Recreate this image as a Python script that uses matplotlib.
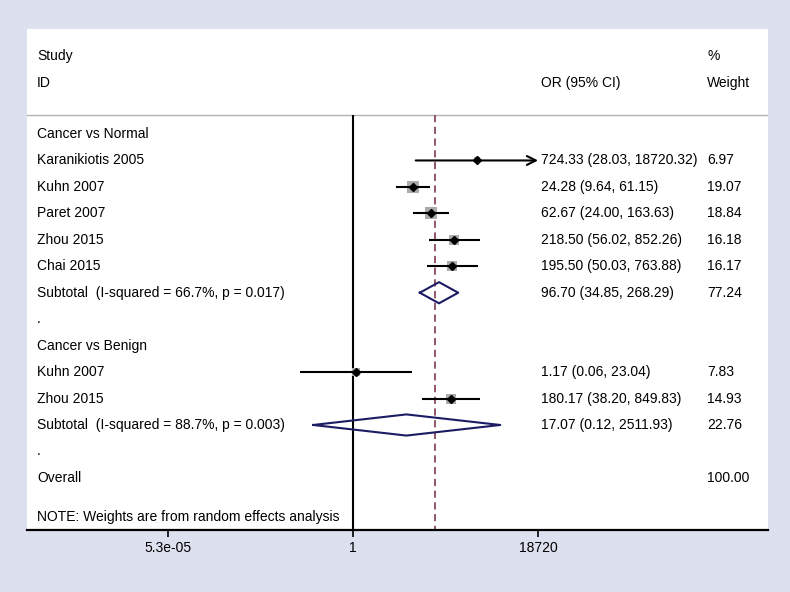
import matplotlib
matplotlib.use('Agg')
import matplotlib.pyplot as plt
import numpy as np

plt.rcParams['font.family'] = ['Liberation Sans', 'DejaVu Sans']

# ---- data ----
group_names = ["Cancer vs Normal", "Cancer vs Benign"]
normal_studies = ["Karanikiotis 2005", "Kuhn 2007", "Paret 2007", "Zhou 2015", "Chai 2015"]
normal_or = [724.33, 24.28, 62.67, 218.50, 195.50]
normal_lo = [28.03, 9.64, 24.00, 56.02, 50.03]
normal_hi = [18720.32, 61.15, 163.63, 852.26, 763.88]
normal_w = [6.97, 19.07, 18.84, 16.18, 16.17]
normal_sub = dict(label="Subtotal  (I-squared = 66.7%, p = 0.017)", est=96.70, lo=34.85, hi=268.29, w=77.24)

benign_studies = ["Kuhn 2007", "Zhou 2015"]
benign_or = [1.17, 180.17]
benign_lo = [0.06, 38.20]
benign_hi = [23.04, 849.83]
benign_w = [7.83, 14.93]
benign_sub = dict(label="Subtotal  (I-squared = 88.7%, p = 0.003)", est=17.07, lo=0.12, hi=2511.93, w=22.76)

overall_or = 78.0  # position of dashed line (estimated)
overall_w = 100.00
tick_vals = [5.3e-05, 1, 18720]
tick_labels = ["5.3e-05", "1", "18720"]
note = "NOTE: Weights are from random effects analysis"

# ---- figure ----
W, H = 790, 592
bg = '#dde0ee'
fig = plt.figure(figsize=(W/100, H/100), dpi=100, facecolor=bg)
L, R, T, B = 27, 768, 29, 530
ax = fig.add_axes([L/W, 1-B/H, (R-L)/W, (B-T)/H])
ax.set_facecolor('white')
ax.set_xscale('log')
ax.set_xlim(np.exp(-17.33), np.exp(22.06))
y_top, y_bot = -3.97, 14.97
ax.set_ylim(y_bot, y_top)
for s in ['top', 'left', 'right']:
    ax.spines[s].set_visible(False)
ax.spines['bottom'].set_linewidth(1.6)
ax.set_yticks([])
ax.set_xticks(tick_vals)
ax.set_xticklabels(tick_labels)
ax.minorticks_off()
ax.tick_params(axis='x', direction='out', length=5, width=1.2, labelsize=10, pad=3)

fs = 10
tr = ax.get_yaxis_transform()
x_study = (37-L)/(R-L)
x_or = (541-L)/(R-L)
x_w = (707-L)/(R-L)

# header
ax.text(x_study, -2.95, "Study", transform=tr, va='center', ha='left', fontsize=fs)
ax.text(x_study, -1.93, "ID", transform=tr, va='center', ha='left', fontsize=fs)
ax.text(x_or, -1.93, "OR (95% CI)", transform=tr, va='center', ha='left', fontsize=fs)
ax.text(x_w, -2.95, "%", transform=tr, va='center', ha='left', fontsize=fs)
ax.text(x_w, -1.93, "Weight", transform=tr, va='center', ha='left', fontsize=fs)
sep_y = -0.72
ax.axhline(sep_y, color='#b4b4b4', lw=1.0)

# reference lines
ax.vlines(1, sep_y, y_bot, color='black', lw=1.5, zorder=2)
ax.vlines(overall_or, sep_y, y_bot, color='#8a4a58', lw=1.3, linestyles=(0, (4, 2.5)), zorder=2)

xmax_axis = tick_vals[-1]

def fmt(e, l, h):
    return f"{e:.2f} ({l:.2f}, {h:.2f})"

def draw_study(y, name, e, l, h, w):
    ax.text(x_study, y, name, transform=tr, va='center', ha='left', fontsize=fs)
    side_px = 2.65*np.sqrt(w)
    ax.plot([e], [y], marker='s', markersize=side_px*72/100, color='#ababab',
            markeredgewidth=0, zorder=3)
    if h >= xmax_axis:
        ax.annotate('', xy=(xmax_axis, y), xytext=(l, y),
                    arrowprops=dict(arrowstyle='->', lw=1.5, color='black',
                                    mutation_scale=16, shrinkA=0, shrinkB=0), zorder=4)
    else:
        ax.plot([l, h], [y, y], color='black', lw=1.5, zorder=4, solid_capstyle='butt')
    ax.plot([e], [y], marker='D', markersize=4, color='black', zorder=5)
    ax.text(x_or, y, fmt(e, l, h), transform=tr, va='center', ha='left', fontsize=fs)
    ax.text(x_w, y, f"{w:.2f}", transform=tr, va='center', ha='left', fontsize=fs)

def draw_sub(y, sub):
    ax.text(x_study, y, sub['label'], transform=tr, va='center', ha='left', fontsize=fs)
    hh = 0.4
    xs = [sub['lo'], sub['est'], sub['hi'], sub['est'], sub['lo']]
    ys = [y, y-hh, y, y+hh, y]
    ax.plot(xs, ys, color='#1c1c64', lw=1.5, zorder=4)
    ax.text(x_or, y, fmt(sub['est'], sub['lo'], sub['hi']), transform=tr, va='center', ha='left', fontsize=fs)
    ax.text(x_w, y, f"{sub['w']:.2f}", transform=tr, va='center', ha='left', fontsize=fs)

row = 0
ax.text(x_study, row, group_names[0], transform=tr, va='center', ha='left', fontsize=fs)
row += 1
for n, e, l, h, w in zip(normal_studies, normal_or, normal_lo, normal_hi, normal_w):
    draw_study(row, n, e, l, h, w)
    row += 1
draw_sub(row, normal_sub); row += 1
ax.text(x_study, row, ".", transform=tr, va='center', ha='left', fontsize=fs); row += 1
ax.text(x_study, row, group_names[1], transform=tr, va='center', ha='left', fontsize=fs); row += 1
for n, e, l, h, w in zip(benign_studies, benign_or, benign_lo, benign_hi, benign_w):
    draw_study(row, n, e, l, h, w)
    row += 1
draw_sub(row, benign_sub); row += 1
ax.text(x_study, row, ".", transform=tr, va='center', ha='left', fontsize=fs); row += 1
ax.text(x_study, row, "Overall", transform=tr, va='center', ha='left', fontsize=fs)
ax.text(x_w, row, f"{overall_w:.2f}", transform=tr, va='center', ha='left', fontsize=fs)
ax.text(x_study, 14.47, note, transform=tr, va='center', ha='left', fontsize=fs)

fig.savefig('out.png', dpi=100, facecolor=bg)
